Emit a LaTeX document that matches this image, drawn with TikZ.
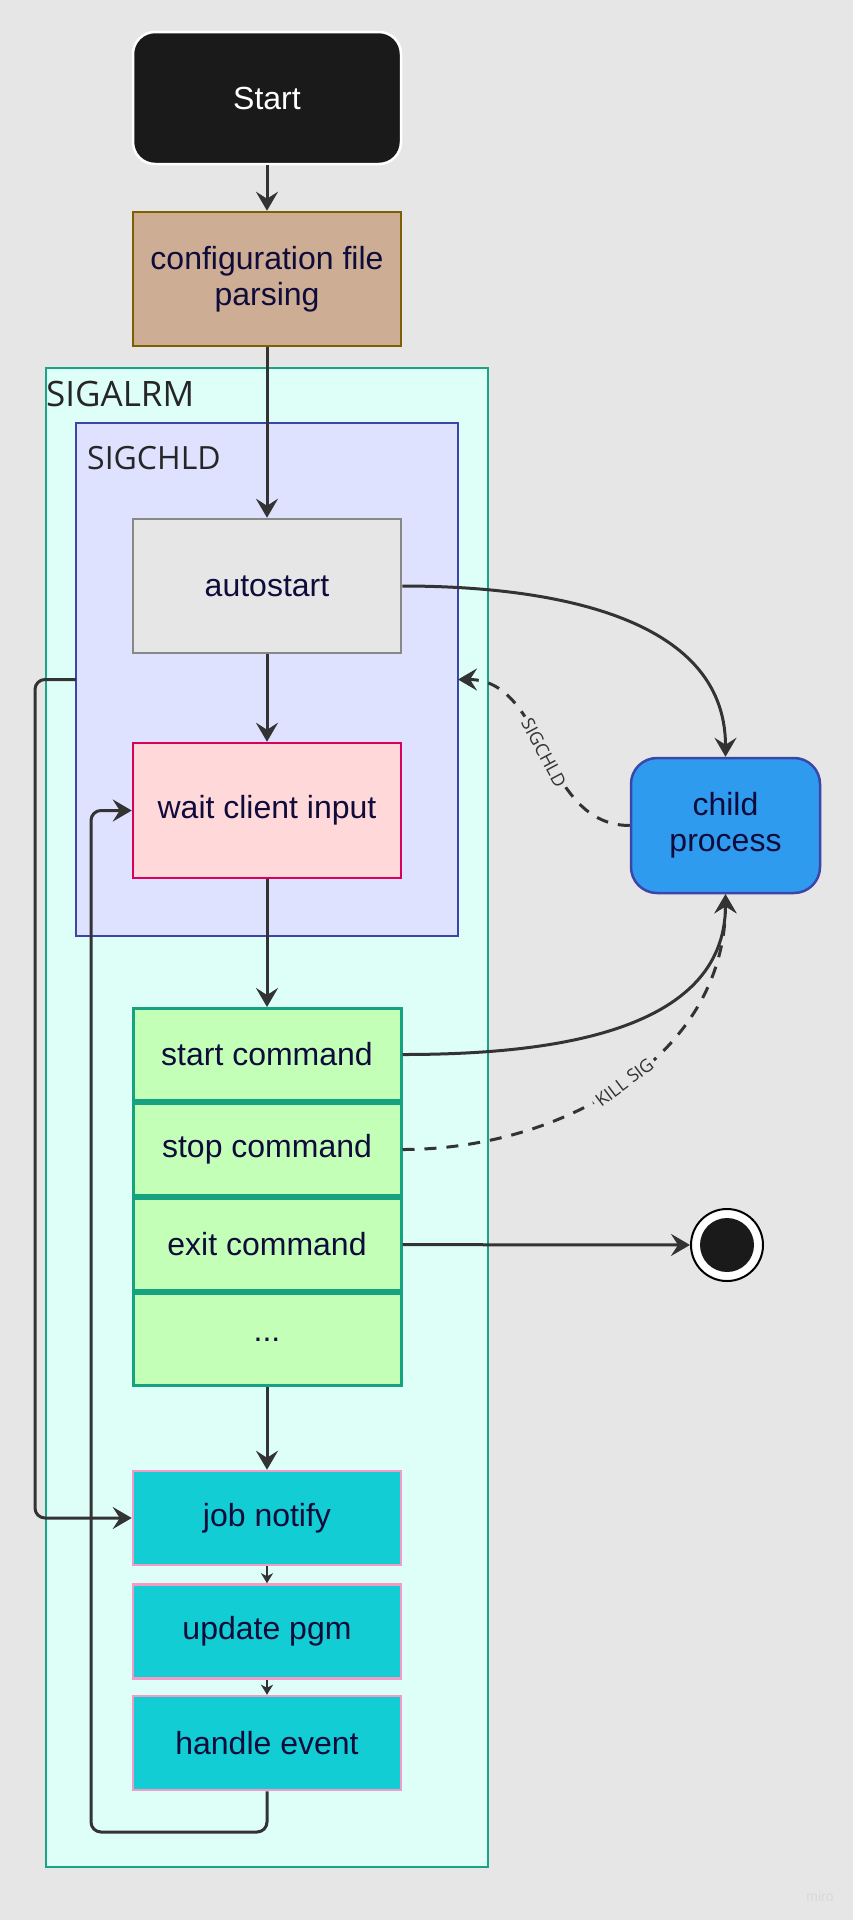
\documentclass[tikz,border=0pt]{standalone}
\usepackage{fontspec}
\setmainfont{Liberation Sans}
\newfontfamily\zonefont{Open Sans}
\usepackage{tikz}
\usetikzlibrary{arrows.meta,calc}
\usetikzlibrary{positioning}

\definecolor{bggray}{HTML}{E6E6E6}
\definecolor{inkline}{HTML}{333333}
\definecolor{navytext}{HTML}{0F0B3A}
\definecolor{startfill}{HTML}{1A1A1A}
\definecolor{parsefill}{HTML}{CDAE94}
\definecolor{parsedraw}{HTML}{7F6000}
\definecolor{alrmfill}{HTML}{DEFFF8}
\definecolor{alrmdraw}{HTML}{1BA385}
\definecolor{chldfill}{HTML}{DFE2FF}
\definecolor{chlddraw}{HTML}{3B46A8}
\definecolor{autodraw}{HTML}{888888}
\definecolor{waitfill}{HTML}{FFD9DA}
\definecolor{waitdraw}{HTML}{D8005B}
\definecolor{cmdfill}{HTML}{C4FFB8}
\definecolor{cmddraw}{HTML}{15A37F}
\definecolor{jobfill}{HTML}{12CDD4}
\definecolor{jobdraw}{HTML}{F39BC6}
\definecolor{childfill}{HTML}{2F9BEF}

\tikzset{
  block/.style={draw, line width=2.5pt, minimum width=268pt, minimum height=134pt, inner sep=0pt,
    text=navytext, font=\fontsize{32}{36}\selectfont, align=center},
  startbox/.style={block, fill=startfill, draw=white, rounded corners=22pt, minimum height=132pt, text=white},
  parsebox/.style={block, fill=parsefill, draw=parsedraw},
  autobox/.style={block, fill=bggray, draw=autodraw},
  waitbox/.style={block, fill=waitfill, draw=waitdraw, minimum height=135pt},
  cmdbox/.style={block, fill=cmdfill, draw=cmddraw, line width=3pt, minimum height=92pt},
  jobbox/.style={block, fill=jobfill, draw=jobdraw, minimum height=94pt},
  childbox/.style={block, fill=childfill, draw=chlddraw, minimum width=189pt, minimum height=135pt, rounded corners=26pt},
  zone/.style={line width=2.5pt, inner sep=0pt, outer sep=0pt, anchor=north west},
  zonelabel/.style={font=\zonefont\fontsize{35}{40}\selectfont, text=black!85, inner sep=0pt, anchor=base west},
  flow/.style={draw=inkline, line width=3pt, -{Stealth[length=19pt,width=22pt,inset=7pt]}},
  smallflow/.style={draw=inkline, line width=2.2pt, -{Stealth[length=10pt,width=12pt,inset=3pt]}},
  signal/.style={flow, dash pattern=on 12pt off 10pt},
  edgelabel/.style={font=\zonefont\fontsize{18}{20}\selectfont, text=black!80, fill=bggray, inner sep=3pt},
  endstate/.style={circle, draw=black, fill=white, line width=2pt, minimum size=72pt, inner sep=0pt,
    path picture={\fill[startfill] (path picture bounding box.center) circle (27pt);}},
}

\begin{document}
\begin{tikzpicture}[x=1pt,y=1pt,yscale=-1,xscale=1]
  % page: 853 x 1920
  \fill[bggray] (0,0) rectangle (853,1920);
  \useasboundingbox (0,0) rectangle (853,1920);

    %Shape: Rectangle [SIGALRM zone]
    \node[zone, fill=alrmfill, draw=alrmdraw, minimum width=442pt, minimum height=1499pt] (sigalrm) at (46,368) {};
    %Shape: Rectangle [SIGCHLD zone]
    \node[zone, fill=chldfill, draw=chlddraw, minimum width=382pt, minimum height=513pt] (sigchld) at (76,423) {};
    % Text Node
    \node[zonelabel] (alrmtext) at (46,406) {SIGALRM};
    % Text Node
    \node[zonelabel, font=\zonefont\fontsize{32}{36}\selectfont] (chldtext) at (87,469) {SIGCHLD};

    % states
    \node[startbox] (start) at (267,98) {Start};
    \node[parsebox] (parse) at (267,279) {configuration file\\parsing};
    \node[autobox] (autostart) at (267,586) {autostart};
    \node[waitbox] (wait) at (267,810.5) {wait client input};
    \node[cmdbox] (startcmd) at (267,1054.5) {start command};
    \node[cmdbox, below=0pt of startcmd] (stopcmd) {stop command};
    \node[cmdbox, below=0pt of stopcmd] (exitcmd) {exit command};
    \node[cmdbox, below=0pt of exitcmd] (morecmd) {...};
    \node[jobbox] (job) at (267,1518) {job notify};
    \node[jobbox, below=17pt of job] (update) {update pgm};
    \node[jobbox, below=15pt of update] (handle) {handle event};
    \node[childbox] (child) at (725.5,825.5) {child\\process};
    \node[endstate] (finish) at (727,1245) {};

    \coordinate (outerrail) at (35,0);
    \coordinate (innerrail) at (91,1832);

    % main flow
    \draw[flow] (start) -- (parse);
    \draw[flow] (parse) -- (autostart);
    \draw[flow] (autostart) -- (wait);
    \draw[flow] (wait) -- (startcmd);
    \draw[flow] (morecmd) -- (job);
    \draw[smallflow] (job) -- (update);
    \draw[smallflow] (update) -- (handle);
    \draw[flow] (exitcmd) -- (finish);

    % child process (yscale=-1: -90 is up)
    \draw[flow] (autostart.east) to[out=0,in=-90] (child.north);
    \draw[flow] (startcmd.east) to[out=0,in=90] (child.south);
    \draw[signal] (stopcmd.east) to[out=0,in=90] node[edgelabel, pos=0.5, rotate=37] {KILL SIG} (child.south);
    \draw[signal] (child.west) to[out=180,in=0] node[edgelabel, rotate=-62] {SIGCHLD} (sigchld.east);

    % loops
    \draw[flow, rounded corners=10pt] (sigchld.west) -- (sigchld.west -| outerrail) |- (job.west);
    \draw[flow, rounded corners=10pt] (handle.south) |- (innerrail) |- (wait.west);

    % Text Node
    \node[text=black!15, font=\fontsize{14}{16}\selectfont] (miro) at (820,1896) {miro};

\end{tikzpicture}
\end{document}
